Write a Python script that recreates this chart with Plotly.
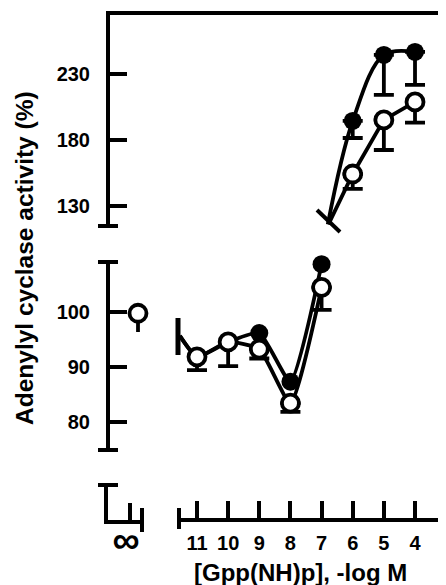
import plotly.graph_objects as go

# ---------------- data ----------------
x_ticks = [11, 10, 9, 8, 7, 6, 5, 4]
x_ticktext = ["11", "10", "9", "8", "7", "6", "5", "4"]
y_up_ticks = [130, 180, 230]
y_low_ticks = [80, 90, 100]
inf_tick = [22]
inf_label = ["\u221e"]

# upper panel (stimulation)
up_x = [6, 5, 4]
filled_up_y = [194.4, 244.4, 246.7]
filled_up_err = [12.9, 30.3, 25.0]
open_up_y = [154.2, 195.2, 208.8]
open_up_err = [11.3, 22.8, 15.6]
# fitted curves entering the upper panel from the axis break
filled_up_curve_x = [6.8, 6, 5, 4]
filled_up_curve_y = [116.0, 194.4, 244.4, 246.7]
open_up_curve_x = [6.78, 6, 5, 4]
open_up_curve_y = [116.0, 154.2, 195.2, 208.8]

# lower panel (inhibition)
low_x = [11, 10, 9, 8, 7]
filled_low_y = [91.8, 94.5, 96.1, 87.3, 108.6]
open_low_y = [91.8, 94.5, 93.2, 83.4, 104.4]
open_low_err = [2.4, 4.4, 1.7, 1.6, 4.1]
low_curve_x = [11.55, 11, 10, 9, 8, 7]
filled_low_curve_y = [95.6, 91.8, 94.5, 96.1, 87.3, 108.6]
open_low_curve_y = [95.6, 91.8, 94.5, 93.2, 83.4, 104.4]

# control (no Gpp(NH)p)
ctrl_x = [30]
ctrl_y = [99.7]
ctrl_err = [3.4]

# ---------------- layout geometry ----------------
# the page body has an 8px margin, so the figure is drawn 8px smaller
OFF = 8
W, H = 446 - OFF, 585 - OFF
ML, MR, MT, MB = 108 - OFF, 2, 13 - OFF, 65
PW, PH = W - ML - MR, H - MT - MB


def px(xp):
    return (xp - OFF - ML) / PW


def py(yp):
    return (H - MB - (yp - OFF)) / PH


BLACK = "black"
FONT = "Liberation Sans, Arial, sans-serif"
tickfont = dict(family=FONT, size=20, color=BLACK, weight="bold")

fig = go.Figure()

# filled series
fig.add_trace(go.Scatter(x=filled_up_curve_x, y=filled_up_curve_y, xaxis="x", yaxis="y",
                         mode="lines", line=dict(color=BLACK, width=3.8, shape="spline", smoothing=1.0)))
fig.add_trace(go.Scatter(x=low_curve_x, y=filled_low_curve_y, xaxis="x", yaxis="y2",
                         mode="lines", line=dict(color=BLACK, width=3.8, shape="spline", smoothing=0.5)))
fig.add_trace(go.Scatter(x=up_x, y=filled_up_y, xaxis="x", yaxis="y", mode="markers",
                         marker=dict(symbol="circle", size=18, color=BLACK),
                         error_y=dict(type="data", symmetric=False, array=[0, 0, 0], arrayminus=filled_up_err,
                                      color=BLACK, thickness=3.8, width=10),
                         cliponaxis=False))
fig.add_trace(go.Scatter(x=low_x, y=filled_low_y, xaxis="x", yaxis="y2", mode="markers",
                         marker=dict(symbol="circle", size=18, color=BLACK), cliponaxis=False))

# open series
fig.add_trace(go.Scatter(x=open_up_curve_x, y=open_up_curve_y, xaxis="x", yaxis="y",
                         mode="lines", line=dict(color=BLACK, width=3.8)))
fig.add_trace(go.Scatter(x=low_curve_x, y=open_low_curve_y, xaxis="x", yaxis="y2",
                         mode="lines", line=dict(color=BLACK, width=3.8, shape="spline", smoothing=0.5)))
fig.add_trace(go.Scatter(x=up_x, y=open_up_y, xaxis="x", yaxis="y", mode="markers",
                         marker=dict(symbol="circle", size=17, color="white", line=dict(color=BLACK, width=3.8)),
                         error_y=dict(type="data", symmetric=False, array=[0, 0, 0], arrayminus=open_up_err,
                                      color=BLACK, thickness=3.8, width=10),
                         cliponaxis=False))
fig.add_trace(go.Scatter(x=low_x, y=open_low_y, xaxis="x", yaxis="y2", mode="markers",
                         marker=dict(symbol="circle", size=17, color="white", line=dict(color=BLACK, width=3.8)),
                         error_y=dict(type="data", symmetric=False, array=[0] * 5, arrayminus=open_low_err,
                                      color=BLACK, thickness=3.8, width=10),
                         cliponaxis=False))
fig.add_trace(go.Scatter(x=ctrl_x, y=ctrl_y, xaxis="x2", yaxis="y2", mode="markers",
                         marker=dict(symbol="circle", size=17, color="white", line=dict(color=BLACK, width=3.8)),
                         error_y=dict(type="data", symmetric=False, array=[0], arrayminus=ctrl_err,
                                      color=BLACK, thickness=3.8, width=0),
                         cliponaxis=False))
# empty trace so that the small control sub-axis (x2/y3) is created
fig.add_trace(go.Scatter(x=[None], y=[None], xaxis="x2", yaxis="y3", mode="markers"))

axis_common = dict(showline=True, linecolor=BLACK, linewidth=4, ticks="inside", ticklen=17,
                   tickwidth=4, tickcolor=BLACK, showgrid=False, zeroline=False, tickfont=tickfont)

fig.update_layout(
    width=W, height=H, showlegend=False,
    margin=dict(l=ML, r=MR, t=MT, b=MB, autoexpand=False),
    paper_bgcolor="white", plot_bgcolor="white",
    xaxis=dict(domain=[px(178), 1], range=[11.61, 3.069], anchor="free", position=0,
               tickvals=x_ticks, ticktext=x_ticktext, ticklabelstandoff=4, **axis_common),
    xaxis2=dict(domain=[0, px(142)], range=[0, 34], anchor="y3",
                tickvals=inf_tick, ticktext=inf_label, ticklabelstandoff=-17, ticklabelshift=-4,
                **{**axis_common, "tickfont": dict(family=FONT, size=38, color=BLACK, weight="bold")}),
    yaxis=dict(domain=[py(226), 1], range=[114.8, 276.2], anchor="free", position=0,
               tickvals=y_up_ticks, ticklabelstandoff=12, **axis_common),
    yaxis2=dict(domain=[py(450), py(262)], range=[74.9, 109.0], anchor="free", position=0,
                tickvals=y_low_ticks, ticklabelstandoff=12, **axis_common),
    yaxis3=dict(domain=[0, py(485)], range=[0, 1], anchor="x2",
                showline=True, linecolor=BLACK, linewidth=4, showticklabels=False, ticks="",
                showgrid=False, zeroline=False),
)

# decorations: frame, axis end caps and break marks
def seg(x0, y0, x1, y1, w=4):
    fig.add_shape(type="line", xref="paper", yref="paper", x0=px(x0), y0=py(y0), x1=px(x1), y1=py(y1),
                  line=dict(color=BLACK, width=w))

seg(106, 13, 446, 13, 4)      # top frame
seg(444, 11, 444, 520, 3)     # right frame
seg(98, 226, 118, 226)        # upper axis bottom cap
seg(98, 262, 118, 262)        # lower axis top cap
seg(98, 450, 118, 450)        # lower axis bottom cap
seg(98, 485, 118, 485)        # control axis top cap
seg(142, 508, 142, 532)       # control x end cap
seg(179, 508, 179, 529)       # main x start cap
seg(178, 318, 178, 355, 5)    # lower break mark
seg(317, 210, 340, 232, 4)    # upper break mark

fig.add_annotation(text="Adenylyl cyclase activity (%)", xref="paper", yref="paper",
                   x=px(24), y=py(258), textangle=-90, showarrow=False,
                   xanchor="center", yanchor="middle",
                   font=dict(family=FONT, size=24.5, color=BLACK, weight="bold"))
fig.add_annotation(text="[Gpp(NH)p], -log M", xref="paper", yref="paper",
                   x=px(300), y=py(572), showarrow=False, xanchor="center", yanchor="middle",
                   font=dict(family=FONT, size=24, color=BLACK, weight="bold"))

fig.write_html("out.html")
